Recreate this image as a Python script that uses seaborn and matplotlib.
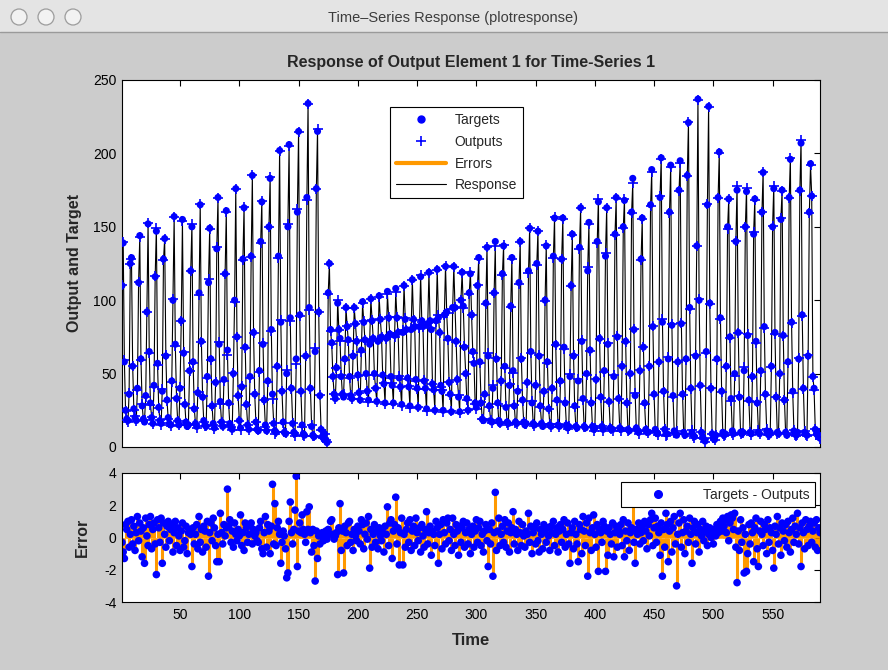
import numpy as np
import pandas as pd
import matplotlib
matplotlib.use("Agg")
import matplotlib.pyplot as plt
import seaborn as sns
from matplotlib.lines import Line2D
from matplotlib.patches import Rectangle, Ellipse

# ---- data (time steps 1..590) ----
# first stretch: one list per cycle, starting at its peak
start_values = [110]
first_cycles = [
    [139, 58, 25, 19, 18, 36, 125],
    [129, 55, 26, 20, 18, 40, 112],
    [144, 60, 28, 19, 17, 35, 92],
    [152, 65, 30, 20, 16, 42, 116],
    [147, 57, 27, 18, 16, 38, 128],
    [142, 62, 32, 20, 16, 15, 45, 100],
    [157, 70, 33, 18, 15, 40, 86],
    [155, 64, 29, 17, 14, 15, 52, 120],
    [150, 58, 26, 16, 14, 37, 105],
    [165, 72, 34, 18, 15, 14, 48, 112],
    [149, 60, 28, 16, 13, 44, 135],
    [170, 70, 31, 17, 14, 46, 118],
    [161, 66, 30, 16, 13, 12, 50, 100],
    [176, 75, 35, 18, 13, 41, 128],
    [163, 68, 29, 15, 12, 48, 130],
    [185, 78, 36, 17, 12, 11, 52, 140],
    [167, 70, 32, 15, 11, 45, 150],
    [183, 80, 36, 16, 11, 10, 55, 130],
    [202, 85, 38, 17, 10, 9, 50, 150],
    [206, 88, 40, 16, 10, 9, 60, 160],
    [215, 90, 38, 15, 9, 8, 62, 170],
    [234, 95, 40, 14, 8, 7, 65, 176],
    [215, 92, 35, 12, 7, 6, 9, 5, 3],
]
transition_values = [105, 125, 80, 71, 48, 36, 33, 54]
middle_cycles = [
    [98, 80, 74, 48, 36, 34, 60],
    [95, 82, 73, 48, 35, 33, 62],
    [95, 84, 72, 49, 37, 32, 66],
    [99, 85, 73, 50, 38, 32, 70],
    [101, 86, 74, 50, 40, 31, 72],
    [103, 87, 75, 49, 43, 30, 74],
    [106, 88, 77, 48, 42, 30, 76],
    [108, 88, 78, 47, 41, 29, 78],
    [110, 87, 80, 47, 41, 28, 80],
    [114, 87, 82, 46, 40, 27, 82],
    [116, 86, 82, 45, 40, 26, 84],
    [119, 86, 80, 43, 39, 25, 86],
    [121, 88, 78, 42, 38, 25, 90],
    [123, 92, 74, 44, 36, 24, 95],
    [123, 95, 72, 46, 34, 24, 100],
    [119, 96, 68, 50, 33, 25, 105],
    [118, 90, 65, 57, 30, 27, 110],
]
last_cycles = [
    [129, 58, 30, 19, 18, 36, 98],
    [136, 62, 28, 18, 17, 40, 105],
    [140, 60, 30, 18, 16, 45, 118],
    [137, 55, 27, 17, 16, 42, 96],
    [129, 52, 28, 17, 16, 38, 112],
    [140, 60, 32, 17, 15, 16, 44, 120],
    [149, 65, 30, 16, 15, 42, 125],
    [147, 62, 28, 16, 14, 38, 100],
    [137, 58, 26, 15, 14, 40, 130],
    [156, 70, 32, 15, 14, 45, 128],
    [156, 68, 30, 15, 13, 14, 48, 110],
    [145, 62, 28, 14, 13, 45, 136],
    [163, 72, 33, 14, 13, 50, 120],
    [153, 66, 30, 14, 12, 13, 46, 140],
    [167, 74, 34, 14, 12, 52, 130],
    [163, 70, 31, 13, 12, 12, 48, 145],
    [170, 75, 33, 13, 12, 55, 150],
    [168, 72, 30, 12, 11, 50, 160],
    [183, 80, 35, 13, 11, 10, 52, 128],
    [156, 68, 30, 12, 10, 10, 55, 165],
    [189, 82, 36, 12, 10, 9, 58, 170],
    [197, 85, 38, 12, 9, 9, 60, 160],
    [192, 83, 35, 11, 9, 8, 58, 175],
    [195, 84, 36, 10, 8, 60, 185],
    [221, 95, 40, 10, 8, 7, 62, 137],
    [237, 100, 42, 10, 7, 5, 4, 65, 165],
    [232, 98, 40, 9, 6, 5, 8, 60, 170],
    [201, 88, 38, 10, 8, 9, 55, 150],
    [169, 75, 33, 11, 9, 50, 140],
    [175, 78, 34, 10, 9, 10, 52, 150],
    [174, 76, 32, 10, 9, 48, 145],
    [169, 72, 30, 10, 9, 52, 160],
    [187, 82, 36, 11, 9, 8, 10, 55, 150],
    [176, 78, 34, 10, 9, 50, 155],
    [175, 76, 32, 10, 8, 58, 170],
    [196, 85, 38, 11, 9, 8, 10, 60, 175],
    [207, 90, 40, 10, 9, 8, 62, 160],
    [193, 171, 48, 40, 12, 9, 8, 10, 6],
]

# targets - outputs, ten time steps per row
errors = [
    -0.3, -0.9, -1.3, 0.8, 0.5, 1.0, -0.6, 0.2, 1.1, -0.4,
    0.7, -0.8, 0.3, 1.3, -0.2, 0.9, 0.4, -1.2, 0.6, -1.6,
    1.2, 0.1, -0.5, 0.8, 1.3, -0.7, 0.5, 0.9, -0.4, -2.3,
    1.1, 0.6, -0.3, 1.2, -1.6, 0.9, 0.2, -0.6, 0.7, 1.0,
    -0.2, 0.5, 0.8, -0.9, 0.3, 1.0, -0.5, 0.6, 0.1, -0.8,
    0.4, 0.9, -0.6, -0.2, 0.7, -1.0, 0.3, 0.5, 0.2, -1.8,
    0.6, -0.4, 0.2, 0.8, -0.7, 1.3, -0.3, 0.5, -0.9, 0.7,
    0.4, -0.6, 1.0, -2.4, 0.3, 0.9, -0.2, 1.2, 0.6, -0.5,
    -1.5, 0.2, -1.5, 1.5, 0.3, -0.4, 0.8, 0.1, 0.6, 3.0,
    0.7, 1.1, -0.3, 0.4, -0.6, 0.9, 0.2, -0.2, 0.5, 0.1,
    1.4, -0.5, 0.3, -0.8, 0.9, 0.6, -0.3, 0.2, 0.8, 0.9,
    -0.4, 0.5, 0.1, 0.3, -0.2, -0.3, 0.6, 1.0, -0.7, -1.0,
    0.3, 1.3, -0.6, 0.8, 0.4, -1.0, 0.7, 3.3, -0.4, 2.1,
    -0.5, 0.6, 1.0, 0.2, -1.6, -0.3, 0.4, 0.1, -0.7, -2.5,
    -2.2, 1.0, 2.2, 0.3, -0.4, 0.5, 1.7, 3.8, -1.8, 0.4,
    0.9, 0.3, 1.4, 0.5, 0.2, -0.3, 1.6, 0.5, 1.9, 0.3,
    -0.9, 0.5, -0.5, -2.7, 0.4, -1.3, 0.1, -0.4, 0.1, 0.3,
    -0.2, 0.2, 0.4, -0.1, 0.5, 0.2, 1.0, 1.1, 0.2, -0.1,
    0.1, 0.3, -2.3, 0.6, 2.1, -0.8, 0.4, -2.2, 0.7, 0.3,
    -0.5, 0.9, 1.0, -0.3, 0.2, -0.8, 0.5, 0.1, -0.2, 0.7,
    0.4, -0.4, 1.1, 0.8, -0.7, 0.2, 0.9, -0.1, 1.3, -1.9,
    0.5, -0.6, 0.2, 0.8, -0.3, 0.4, -0.7, 0.6, 0.1, -0.2,
    0.3, -0.9, 0.7, 0.2, 1.9, -0.5, 0.9, 1.1, -1.3, 0.4,
    0.8, 2.5, -0.4, 0.6, -1.7, 0.3, 1.2, -1.7, 0.2, -0.6,
    0.5, 0.9, -0.3, 1.1, -0.8, 0.4, 0.7, -0.5, 1.2, 0.3,
    -0.2, 0.6, -0.9, 0.8, 0.1, -0.6, 0.5, 1.6, -0.4, 0.3,
    0.7, -1.1, 0.4, 0.2, -0.5, 1.0, 0.6, -1.6, 0.2, 0.8,
    -0.7, 1.1, 0.3, -0.4, 0.9, 1.2, -0.2, 0.5, -0.8, 1.2,
    0.2, -0.5, 0.8, 0.4, -1.1, 0.7, -0.3, 0.6, 1.0, -0.6,
    0.3, 0.9, -0.4, 0.5, -1.0, 0.2, 0.7, -0.6, 0.4, 1.1,
    -0.3, 0.6, 1.0, -0.5, 0.2, -0.9, 0.4, 0.8, -0.2, -1.8,
    0.5, -0.4, 0.9, -2.4, 0.3, 2.8, -0.8, 0.4, 1.2, -0.5,
    0.2, 0.7, -0.3, 1.1, -0.6, 0.4, 0.9, -0.9, 0.3, 0.6,
    1.6, -0.4, 0.5, 0.2, -0.8, 1.0, 0.3, -0.5, 0.8, 0.1,
    -0.6, 0.4, 0.2, 1.5, -0.3, 0.7, -1.0, 0.3, 0.6, -0.4,
    0.9, -0.2, -0.9, 0.5, 0.2, -0.7, 0.8, 0.4, -0.3, 0.6,
    0.1, -0.8, 0.7, 0.3, 1.0, -0.5, 0.2, 0.6, -0.9, 0.4,
    0.8, -0.3, 0.5, 1.1, -0.6, 0.2, 0.9, -0.4, -1.6, 0.3,
    0.6, -0.7, 1.0, 0.2, -0.4, -1.5, 0.8, 0.5, -1.0, 1.3,
    0.4, -0.5, 0.9, -2.4, 1.2, 0.3, -0.8, 0.6, 1.4, 0.2,
    -0.6, 0.8, -2.1, 0.5, 0.3, -0.3, 1.0, 0.7, -2.1, 0.4,
    -1.1, 0.6, 0.2, -0.4, 0.9, -1.2, 0.3, 0.7, -0.6, 0.5,
    0.2, 0.8, -0.5, 1.1, -1.2, 0.4, -0.2, 0.9, -0.8, 0.3,
    0.6, 3.2, -0.3, -1.6, 0.5, 0.2, 0.9, -0.4, 0.3, 0.7,
    -0.2, 1.0, 0.4, -0.7, 0.8, 0.1, 1.1, 1.5, -0.5, 0.6,
    1.2, -0.3, 0.7, 0.3, -1.1, 0.9, -2.4, 0.5, -0.6, 1.5,
    0.8, -1.5, 0.4, 1.0, -0.9, 0.6, 1.3, -0.4, -3.0, 0.2,
    0.9, 1.5, -0.6, 0.3, 1.1, -1.0, 0.4, 0.7, -0.3, 1.2,
    0.2, -1.6, 0.6, 1.0, -0.4, 0.3, 0.8, -0.9, 0.5, 0.1,
    1.0, -0.2, 0.4, 0.7, -0.5, 0.2, 0.6, 0.0, 0.3, -0.4,
    0.5, 0.1, 0.8, 0.3, 0.6, 1.0, 0.4, 1.2, 0.7, 1.1,
    0.3, 1.3, -0.2, 0.9, 1.4, 1.2, 0.5, 1.5, -0.6, -2.8,
    0.4, -0.8, 1.1, -0.3, 0.6, -2.2, 0.2, -2.1, -1.0, 0.8,
    -0.4, 0.9, 0.3, -1.5, 0.6, 1.2, -0.7, -1.8, 0.4, 1.0,
    0.2, -0.5, 0.8, 0.5, -1.0, 1.1, -0.3, 0.6, 0.3, -0.8,
    -1.9, 0.7, 0.2, 1.3, -0.4, 0.6, -1.1, 0.9, 0.4, -0.2,
    0.8, -0.6, 1.0, 0.3, -0.9, 0.5, 1.2, -0.3, 0.7, 0.2,
    1.5, -0.4, 0.6, -1.8, 0.9, 0.3, -0.7, 1.1, 0.5, -0.5,
    0.7, 1.0, -0.3, 0.4, 0.9, -0.6, 1.1, -0.8, 0.6, 0.3,
]

xtick_values = [50, 100, 150, 200, 250, 300, 350, 400, 450, 500, 550]

targets = np.array(start_values + sum(first_cycles, []) + transition_values
                   + sum(middle_cycles, []) + sum(last_cycles, []), dtype=float)
errs = np.array(errors, dtype=float)
assert len(targets) == len(errs) == 590
time = np.arange(1, len(targets) + 1)
outputs = targets - errs
df = pd.DataFrame({"time": time, "target": targets, "output": outputs, "error": errs})

sns.set_style("white")
plt.rcParams["font.family"] = ["Liberation Sans", "DejaVu Sans"]
plt.rcParams["axes.unicode_minus"] = False

W, H = 888, 670
fig = plt.figure(figsize=(W / 100, H / 100), dpi=100)
fig.patch.set_facecolor("#cccccc")

# window title bar
fig.add_artist(Rectangle((0, 1 - 32 / H), 1, 32 / H, transform=fig.transFigure,
                         facecolor="#e4e4e4", edgecolor="none"))
fig.add_artist(Line2D([0, 1], [1 - 32 / H, 1 - 32 / H], transform=fig.transFigure,
                      color="#9a9a9a", lw=1))
for cx in (19, 46, 73):
    fig.add_artist(Ellipse((cx / W, 1 - 17 / H), 16 / W, 16 / H, transform=fig.transFigure,
                           facecolor="#f2f2f2", edgecolor="#9c9c9c", lw=0.9))
fig.text(453 / W, 1 - 18 / H, "Time\u2013Series Response (plotresponse)",
         ha="center", va="center", fontsize=10.5, color="#3c3c3c")

BLUE = "#0000ff"
ORANGE = "#ff9900"

# ---- response panel ----
ax = fig.add_axes([122 / W, 1 - 447 / H, 698 / W, 367 / H])
ax.set_facecolor("white")
sns.lineplot(data=df, x="time", y="output", ax=ax, color="black", lw=0.8,
             estimator=None, sort=False, zorder=1)
ax.vlines(df["time"], df["output"], df["target"], color=ORANGE, lw=2, zorder=2)
sns.scatterplot(data=df, x="time", y="target", ax=ax, color=BLUE, s=26,
                edgecolor="none", zorder=3, legend=False)
sns.scatterplot(data=df, x="time", y="output", ax=ax, color=BLUE, marker="+", s=45,
                linewidth=1.2, zorder=4, legend=False)
ax.set_xlim(1, 590)
ax.set_ylim(0, 250)
ax.set_xticks(xtick_values)
ax.set_xticklabels([])
ax.set_yticks([0, 50, 100, 150, 200, 250])
ax.set_xlabel("")
ax.set_ylabel("Output and Target", fontsize=11.5, fontweight="bold", labelpad=8)
fig.text(471 / W, 1 - 62 / H, "Response of Output Element 1 for Time-Series 1",
         ha="center", va="center", fontsize=11.5, fontweight="bold")

handles = [
    Line2D([], [], marker="o", ls="none", color=BLUE, ms=5),
    Line2D([], [], marker="+", ls="none", color=BLUE, ms=7, mew=1.2),
    Line2D([], [], color=ORANGE, lw=3),
    Line2D([], [], color="black", lw=0.8),
]
leg = ax.legend(handles, ["Targets", "Outputs", "Errors", "Response"],
                loc="upper left", bbox_to_anchor=(268 / 698, 1 - 27 / 367),
                fontsize=10, frameon=True, fancybox=False, framealpha=1,
                edgecolor="black", handlelength=3.6, borderpad=0.45,
                labelspacing=0.55, handletextpad=0.6, borderaxespad=0)
leg.get_frame().set_linewidth(0.8)

# ---- error panel ----
ax2 = fig.add_axes([122 / W, 1 - 602 / H, 698 / W, 129 / H])
ax2.set_facecolor("white")
ax2.vlines(df["time"], 0, df["error"], color=ORANGE, lw=2.2, zorder=1)
sns.scatterplot(data=df, x="time", y="error", ax=ax2, color=BLUE, s=30,
                edgecolor="none", zorder=2, legend=False)
ax2.set_xlim(1, 590)
ax2.set_ylim(-4, 4)
ax2.set_xticks(xtick_values)
ax2.set_yticks([-4, -2, 0, 2, 4])
ax2.set_xlabel("Time", fontsize=12, fontweight="bold", labelpad=8)
ax2.set_ylabel("Error", fontsize=11.5, fontweight="bold", labelpad=10)
leg2 = ax2.legend([Line2D([], [], marker="o", ls="none", color=BLUE, ms=5.5)],
                  ["Targets - Outputs"], loc="upper right",
                  bbox_to_anchor=(1 - 5 / 698, 1 - 9 / 129), fontsize=10,
                  frameon=True, fancybox=False, framealpha=1, edgecolor="black",
                  handlelength=4.6, borderpad=0.4, handletextpad=0.9, borderaxespad=0)
leg2.get_frame().set_linewidth(0.8)
leg2.set_zorder(5)

for a in (ax, ax2):
    for s in a.spines.values():
        s.set_visible(True)
        s.set_color("black")
        s.set_linewidth(0.8)
    a.tick_params(direction="in", length=4, width=0.8, top=True, right=True,
                  labelsize=10, colors="black", pad=4)

fig.savefig("out.png", dpi=100, facecolor=fig.get_facecolor())
